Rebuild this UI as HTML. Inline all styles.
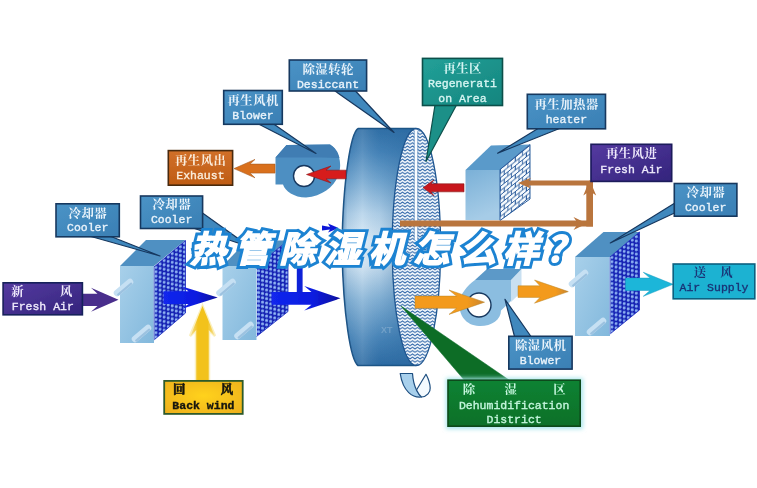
<!DOCTYPE html>
<html><head><meta charset="utf-8"><title>diagram</title>
<style>html,body{margin:0;padding:0;background:#fff;}svg{display:block;}body{font-family:"Liberation Sans",sans-serif;}</style></head>
<body>
<svg width="757" height="488" viewBox="0 0 757 488"><defs>
<linearGradient id="rimV" gradientUnits="userSpaceOnUse" x1="0" y1="128" x2="0" y2="366">
 <stop offset="0" stop-color="#2f6ea5"/>
 <stop offset="0.10" stop-color="#4583b8"/>
 <stop offset="0.22" stop-color="#74a7d0"/>
 <stop offset="0.36" stop-color="#b5d3ea"/>
 <stop offset="0.48" stop-color="#dcebf6"/>
 <stop offset="0.58" stop-color="#cbe0f0"/>
 <stop offset="0.72" stop-color="#86b3d6"/>
 <stop offset="0.88" stop-color="#4a86b9"/>
 <stop offset="1" stop-color="#2c6aa2"/>
</linearGradient>
<linearGradient id="rimH" gradientUnits="userSpaceOnUse" x1="342" y1="0" x2="410" y2="0">
 <stop offset="0" stop-color="#2a68a0" stop-opacity="0.55"/>
 <stop offset="0.08" stop-color="#2a68a0" stop-opacity="0.12"/>
 <stop offset="0.3" stop-color="#ffffff" stop-opacity="0.12"/>
 <stop offset="0.55" stop-color="#2a68a0" stop-opacity="0.08"/>
 <stop offset="1" stop-color="#2a68a0" stop-opacity="0.5"/>
</linearGradient>
<pattern id="wave" width="5" height="3.3" patternUnits="userSpaceOnUse">
 <rect width="5" height="3.3" fill="#f4f9fd"/>
 <path d="M-1.25 1.65 L0 2.5 L1.25 1.65 L2.5 0.8 L3.75 1.65 L5 2.5 L6.25 1.65" fill="none" stroke="#2a62a6" stroke-width="1.05" stroke-linejoin="round"/>
</pattern>
<pattern id="dots" width="4.05" height="4.35" patternUnits="userSpaceOnUse" patternTransform="translate(154 267) skewY(-40.5)">
 <rect width="4.05" height="4.35" fill="#1420b2"/>
 <circle transform="translate(2.02 2.17) skewY(40.5)" r="1.55" fill="#7ea4ee"/>
 <circle transform="translate(1.8 1.9) skewY(40.5)" r="0.7" fill="#a8c6f8"/>
</pattern>
<pattern id="brick" width="7.4" height="8.6" patternUnits="userSpaceOnUse" patternTransform="translate(499.5 169.5) skewY(-39)">
 <rect width="7.4" height="8.6" fill="#f6fafd"/>
 <path d="M0 0.5 H7.4 M0 4.8 H7.4 M1 0.5 V4.8 M4.7 4.8 V9.1 M4.7 -3.8 V0.5" fill="none" stroke="#2b5c9c" stroke-width="1"/>
</pattern>
<linearGradient id="front" x1="0" y1="0" x2="1" y2="1">
 <stop offset="0" stop-color="#a8d0ea"/>
 <stop offset="1" stop-color="#82b8dc"/>
</linearGradient>
<linearGradient id="hfront" x1="0" y1="0" x2="0.3" y2="1">
 <stop offset="0" stop-color="#7ab0d7"/><stop offset="1" stop-color="#a6cce7"/>
</linearGradient>
<linearGradient id="orangeR" x1="0" y1="0" x2="1" y2="0">
 <stop offset="0" stop-color="#f39a1d"/>
 <stop offset="0.75" stop-color="#f39a1d"/>
 <stop offset="1" stop-color="#c9852f"/>
</linearGradient>
<linearGradient id="blueR" x1="0" y1="0" x2="1" y2="0">
 <stop offset="0" stop-color="#1226ee"/><stop offset="0.6" stop-color="#0c1ce0"/><stop offset="1" stop-color="#0a0f9c"/>
</linearGradient>
<linearGradient id="yel" x1="0" y1="0" x2="1" y2="0">
 <stop offset="0" stop-color="#f7e39a"/>
 <stop offset="0.3" stop-color="#f2c21c"/>
 <stop offset="0.7" stop-color="#f2c21c"/>
 <stop offset="1" stop-color="#f7e39a"/>
</linearGradient>
<linearGradient id="gbl" x1="0" y1="0" x2="1" y2="1"><stop offset="0" stop-color="#4a93c6"/><stop offset="1" stop-color="#3a7fb4"/></linearGradient>
<linearGradient id="gteal" x1="0" y1="0" x2="1" y2="1"><stop offset="0" stop-color="#22a098"/><stop offset="1" stop-color="#14857e"/></linearGradient>
<linearGradient id="gor" x1="0" y1="0" x2="0" y2="1"><stop offset="0" stop-color="#d1702a"/><stop offset="1" stop-color="#bf5c14"/></linearGradient>
<linearGradient id="gpu" x1="0" y1="0" x2="1" y2="1"><stop offset="0" stop-color="#553aa0"/><stop offset="1" stop-color="#33247c"/></linearGradient>
<linearGradient id="ggr" x1="0" y1="0" x2="0" y2="1"><stop offset="0" stop-color="#0c8232"/><stop offset="1" stop-color="#0a7029"/></linearGradient>
<radialGradient id="gye" cx="0.5" cy="0.45" r="0.7"><stop offset="0" stop-color="#ffd21a"/><stop offset="1" stop-color="#eeb01c"/></radialGradient>
<filter id="soft" filterUnits="userSpaceOnUse" x="0" y="0" width="757" height="488"><feGaussianBlur stdDeviation="0.45"/></filter>
<filter id="soft2" filterUnits="userSpaceOnUse" x="0" y="0" width="757" height="488"><feGaussianBlur stdDeviation="0.25"/></filter>
<filter id="glow" filterUnits="userSpaceOnUse" x="0" y="0" width="757" height="488"><feGaussianBlur stdDeviation="2"/></filter>
</defs>
<rect width="757" height="488" fill="#fff"/>
<g filter="url(#soft)">
<path d="M358 128.5 C351 133 343 178 342 247 C343 316 351 361 358 365.5 L416 365.5 C405 340 392.5 300 392.5 247 C392.5 194 405 154 416 128.5 Z" fill="url(#rimV)"/>
<path d="M358 128.5 C351 133 343 178 342 247 C343 316 351 361 358 365.5 L416 365.5 C405 340 392.5 300 392.5 247 C392.5 194 405 154 416 128.5 Z" fill="url(#rimH)"/>
<path d="M358 128.5 C351 133 343 178 342 247 C343 316 351 361 358 365.5 L416 365.5 M358 128.5 L416 128.5" fill="none" stroke="#1f5486" stroke-width="1.5"/>
</g>
<ellipse cx="416.4" cy="247" rx="24.2" ry="118.5" fill="url(#wave)" stroke="#1f5690" stroke-width="1.3"/>
<path d="M416 130 V240" stroke="#fbfdff" stroke-width="3.2"/>
<path d="M414.2 131 V240 M417.8 131 V240" stroke="#3a72b0" stroke-width="0.6"/>
<g filter="url(#soft)">
<text x="381" y="333" font-family="'Liberation Sans', sans-serif" font-size="9" font-weight="bold" fill="#fff" opacity="0.2">XT</text>
<path d="M400.2 373.5 L412.5 373.5 C413 381 415 387 416.5 390 C418 393 419.5 395 421.5 397 C413 398 403 392 400.2 373.5 Z" fill="#a8d0ec" stroke="#1f4f80" stroke-width="1.2" stroke-linejoin="round"/>
<path d="M426 374.3 L416.5 390 C418 393 419.5 395.5 421.5 397 C427 396.5 430.5 392 430.2 388 C430 383 428 378 426 374.3 Z" fill="#f4fafe" stroke="#1f4f80" stroke-width="1.2" stroke-linejoin="round"/>
<polygon points="120,266 146,240 185.5,240 154,266" fill="#4f90c2"/>
<rect x="120" y="266" width="34" height="77" fill="url(#front)"/>
<g transform="translate(0 0)"><polygon points="154.0,267.0 185.5,240.5 185.5,313.0 154.0,340.0" fill="url(#dots)" stroke="#1626bd" stroke-width="0.8"/></g>
<path d="M154 267 L154 340" stroke="#cfe4f5" stroke-width="0.9"/>
<path d="M117 293 l13 -11" stroke="#c6e0f3" stroke-width="6.5" stroke-linecap="round"/>
<path d="M118.2 294.6 l13 -11" stroke="#9cc2e0" stroke-width="2.2" stroke-linecap="round"/>
<path d="M135 339 l13 -11" stroke="#c6e0f3" stroke-width="6.5" stroke-linecap="round"/>
<path d="M136.2 340.6 l13 -11" stroke="#9cc2e0" stroke-width="2.2" stroke-linecap="round"/>
<polygon points="222.5,266 247,240.5 288,240.5 256.5,266" fill="#4f90c2"/>
<rect x="222.5" y="266" width="34.0" height="74" fill="url(#front)"/>
<g transform="translate(102.5 -1)"><polygon points="154.0,267.0 185.5,241.5 185.5,312.5 154.0,337.5" fill="url(#dots)" stroke="#1626bd" stroke-width="0.8"/></g>
<path d="M256.5 266 L256.5 336.5" stroke="#cfe4f5" stroke-width="0.9"/>
<path d="M219.5 293 l13 -11" stroke="#c6e0f3" stroke-width="6.5" stroke-linecap="round"/>
<path d="M220.7 294.6 l13 -11" stroke="#9cc2e0" stroke-width="2.2" stroke-linecap="round"/>
<path d="M237.5 336 l13 -11" stroke="#c6e0f3" stroke-width="6.5" stroke-linecap="round"/>
<path d="M238.7 337.6 l13 -11" stroke="#9cc2e0" stroke-width="2.2" stroke-linecap="round"/>
<polygon points="575,257 603.5,232 639.5,232 610,257" fill="#4f90c2"/>
<rect x="575" y="257" width="35" height="79" fill="url(#front)"/>
<g transform="translate(456 -10)"><polygon points="154.0,267.0 183.5,242.0 183.5,320.0 154.0,344.0" fill="url(#dots)" stroke="#1626bd" stroke-width="0.8"/></g>
<path d="M610 257 L610 334" stroke="#cfe4f5" stroke-width="0.9"/>
<path d="M572 284 l13 -11" stroke="#c6e0f3" stroke-width="6.5" stroke-linecap="round"/>
<path d="M573.2 285.6 l13 -11" stroke="#9cc2e0" stroke-width="2.2" stroke-linecap="round"/>
<path d="M590 332 l13 -11" stroke="#c6e0f3" stroke-width="6.5" stroke-linecap="round"/>
<path d="M591.2 333.6 l13 -11" stroke="#9cc2e0" stroke-width="2.2" stroke-linecap="round"/>
<polygon points="465.5,170 491,145.5 530,144.5 500,170" fill="#5a9aca"/>
<rect x="465.5" y="170" width="34.5" height="50" fill="url(#hfront)"/>
<polygon points="500,169.5 530,144.5 530,199 500,220.5" fill="url(#brick)" stroke="#2b5c9c" stroke-width="1"/>
<path d="M275.5 157.5 L286.5 145 L330 144.5 C337 149 341 158 340 168 C339 182 326 196 306 197.5 C294 197.5 285 191 283 184.5 L275.5 184.5 Z" fill="#4e8fc2"/>
<path d="M275.5 157.5 L286.5 145 L330 144.5 C335 147 338 152 339.5 158 L322 157.5 Z" fill="#3f7db3"/>
<circle cx="304" cy="176" r="10.5" fill="#fff" stroke="#17375e" stroke-width="1.4"/>
<polygon points="511,280 521.5,269 521.5,292 511,302" fill="#c9e0f1"/>
<path d="M475 280 L511 280 L511 301 L501 310.5 C501 320 491 326.5 479 326 C466 325.5 458.5 315 459.5 303 C460 294 467 286 475 280 Z" fill="#8bbde0"/>
<polygon points="475,280 487,269 521.5,269 511,280" fill="#5b99c8"/>
<circle cx="479" cy="305" r="12" fill="#fff" stroke="#17375e" stroke-width="1.4"/>
<path d="M82 293.7 L97.5 293.7 L91 287.8 L118.5 299.8 L91 311.8 L97.5 305.90000000000003 L82 305.90000000000003 Z" fill="#4a2e8c" />
<path d="M163.5 291.3 L188.5 291.3 L181.4 286.3 L217.7 297.6 L181.4 308.90000000000003 L188.5 303.90000000000003 L163.5 303.90000000000003 Z" fill="url(#blueR)" />
<path d="M271.5 291.90000000000003 L311.5 291.90000000000003 L304.3 286.1 L340.5 298.3 L304.3 310.5 L311.5 304.7 L271.5 304.7 Z" fill="url(#blueR)" />
<path d="M296.8 266 H302.6 V293 H296.8 Z" fill="#1020d8"/>
<path d="M322 225.5 L330 227 L328 223.5 L338.5 228 L328 232.5 L330 229.5 L322 230.5 Z" fill="#0a18d8"/>
<path d="M196 381 L196 330 L190 336 L202.5 306 L215 336 L209 330 L209 381 Z" fill="#f9ecb0" stroke="#f9ecb0" stroke-width="2.5" opacity="0.8"/>
<path d="M196.2 381 L196.2 330 L190.5 336 L202.5 306 L214.8 336 L208.8 330 L208.8 381 Z" fill="url(#yel)"/>
<path d="M346 170.2 L326 170.2 L331 166.0 L306.5 174.5 L331 183.0 L326 178.8 L346 178.8 Z" fill="#d61c1e" stroke="#8e1618" stroke-width="0.6"/>
<path d="M275 164.1 L250 164.1 L255 159.4 L234 168.6 L255 177.79999999999998 L250 173.1 L275 173.1 Z" fill="#d9701f" stroke="#a85c22" stroke-width="0.6"/>
<path d="M464 183.8 L431 183.8 L434 179.8 L423 187.8 L434 195.8 L431 191.8 L464 191.8 Z" fill="#c8161d" stroke="#84141a" stroke-width="0.6"/>
<path d="M415 296.09999999999997 L456.5 296.09999999999997 L449 290.0 L484.5 302.2 L449 314.4 L456.5 308.3 L415 308.3 Z" fill="url(#orangeR)" stroke="#b98428" stroke-width="0.5"/>
<path d="M518 285.8 L540 285.8 L534.5 280.0 L568.3 291.6 L534.5 303.20000000000005 L540 297.40000000000003 L518 297.40000000000003 Z" fill="url(#orangeR)" stroke="#b98428" stroke-width="0.5"/>
<path d="M625.5 278.1 L650 278.1 L643.3 272.3 L673 284.3 L643.3 296.3 L650 290.5 L625.5 290.5 Z" fill="#1bb6d9" stroke="#189cc0" stroke-width="0.5"/>
<path d="M400 220.5 H593 V226.5 H400 Z" fill="#b9743c"/>
<path d="M573.5 217 L587 223.5 L573.5 230 L578 223.5 Z" fill="#b9743c"/>
<path d="M586.3 226.5 V183 H593 V226.5 Z" fill="#b9743c"/>
<path d="M583.3 195.5 L589.7 180 L596.2 195.5 L589.7 191 Z" fill="#b9743c"/>
<path d="M526 180.4 H593 V185.4 H526 Z" fill="#b9743c"/>
<path d="M531 177.7 L518.2 182.9 L531 188.6 L527 182.9 Z" fill="#b9743c"/>
<polygon points="91,236.5 111,236.5 160,256" fill="#3f88bd" stroke="#17375e" stroke-width="1.2" stroke-linejoin="round"/>
<polygon points="202.5,213 193,228 250,247" fill="#3f88bd" stroke="#17375e" stroke-width="1.2" stroke-linejoin="round"/>
<polygon points="259,124.2 274,124.2 316,153.5" fill="#3f88bd" stroke="#17375e" stroke-width="1.2" stroke-linejoin="round"/>
<polygon points="335,91 355.5,91 394,132.5" fill="#3f88bd" stroke="#17375e" stroke-width="1.2" stroke-linejoin="round"/>
<polygon points="435,105 456.5,105 426,161.5" fill="#1a9088" stroke="#0d4f4a" stroke-width="1.2" stroke-linejoin="round"/>
<polygon points="538,128.5 559.5,128.5 497.6,153.2" fill="#3f88bd" stroke="#17375e" stroke-width="1.2" stroke-linejoin="round"/>
<polygon points="674.5,203.2 674.5,213 610.3,243" fill="#3f88bd" stroke="#17375e" stroke-width="1.2" stroke-linejoin="round"/>
<polygon points="514.5,336.5 531,336.5 505,299.3" fill="#3f88bd" stroke="#17375e" stroke-width="1.2" stroke-linejoin="round"/>
<polygon points="401,306 510.5,381 465,381" fill="#0b6d28" stroke="#0b6d28" stroke-width="0.5" stroke-linejoin="round"/>
<rect x="446" y="378" width="137" height="51" fill="#a8e6ec" filter="url(#glow)"/>
</g>
<rect x="56" y="203.8" width="63.3" height="33.0" fill="url(#gbl)" stroke="#17375e" stroke-width="1.6" filter="url(#soft)"/>
<g font-family="'Liberation Mono', monospace" filter="url(#soft)"><text x="68.6" y="217.5" font-family="'Liberation Serif', 'Noto Serif CJK SC', serif" font-size="12.4" font-weight="bold" letter-spacing="0.45" fill="#e9f3fb">冷却器</text><text x="87.7" y="231.4" font-size="11.50" fill="#e9f3fb" stroke="#e9f3fb" stroke-width="0.35" font-weight="normal" text-anchor="middle" >Cooler</text></g>
<rect x="140.5" y="196" width="62.099999999999994" height="32.5" fill="url(#gbl)" stroke="#17375e" stroke-width="1.6" filter="url(#soft)"/>
<g font-family="'Liberation Mono', monospace" filter="url(#soft)"><text x="152.5" y="209.4" font-family="'Liberation Serif', 'Noto Serif CJK SC', serif" font-size="12.4" font-weight="bold" letter-spacing="0.45" fill="#e9f3fb">冷却器</text><text x="171.6" y="223.2" font-size="11.50" fill="#e9f3fb" stroke="#e9f3fb" stroke-width="0.35" font-weight="normal" text-anchor="middle" >Cooler</text></g>
<rect x="223.7" y="90.5" width="58.60000000000002" height="33.8" fill="url(#gbl)" stroke="#17375e" stroke-width="1.6" filter="url(#soft)"/>
<g font-family="'Liberation Mono', monospace" filter="url(#soft)"><text x="227.53" y="105" font-family="'Liberation Serif', 'Noto Serif CJK SC', serif" font-size="12.4" font-weight="bold" letter-spacing="0.45" fill="#e9f3fb">再生风机</text><text x="253.0" y="119.3" font-size="11.50" fill="#e9f3fb" stroke="#e9f3fb" stroke-width="0.35" font-weight="normal" text-anchor="middle" >Blower</text></g>
<rect x="289.3" y="60" width="77.30000000000001" height="31" fill="url(#gbl)" stroke="#17375e" stroke-width="1.6" filter="url(#soft)"/>
<g font-family="'Liberation Mono', monospace" filter="url(#soft)"><text x="302.48" y="73.8" font-family="'Liberation Serif', 'Noto Serif CJK SC', serif" font-size="12.4" font-weight="bold" letter-spacing="0.45" fill="#e9f3fb">除湿转轮</text><text x="328.0" y="88.2" font-size="11.50" fill="#e9f3fb" stroke="#e9f3fb" stroke-width="0.35" font-weight="normal" text-anchor="middle" >Desiccant</text></g>
<rect x="422.5" y="58.4" width="80.0" height="47.1" fill="url(#gteal)" stroke="#0d4f4a" stroke-width="1.6" filter="url(#soft)"/>
<g font-family="'Liberation Mono', monospace" filter="url(#soft)"><text x="443.45" y="72.8" font-family="'Liberation Serif', 'Noto Serif CJK SC', serif" font-size="12.4" font-weight="bold" letter-spacing="0.45" fill="#d5f5f2">再生区</text><text x="462.5" y="87.0" font-size="11.50" fill="#d5f5f2" stroke="#d5f5f2" stroke-width="0.35" font-weight="normal" text-anchor="middle" >Regenerati</text><text x="462.5" y="101.5" font-size="11.50" fill="#d5f5f2" stroke="#d5f5f2" stroke-width="0.35" font-weight="normal" text-anchor="middle" >on Area</text></g>
<rect x="527.3" y="94.3" width="78.20000000000005" height="34.500000000000014" fill="url(#gbl)" stroke="#17375e" stroke-width="1.6" filter="url(#soft)"/>
<g font-family="'Liberation Mono', monospace" filter="url(#soft)"><text x="534.5" y="109.1" font-family="'Liberation Serif', 'Noto Serif CJK SC', serif" font-size="12.4" font-weight="bold" letter-spacing="0.45" fill="#e9f3fb">再生加热器</text><text x="566.4" y="122.7" font-size="11.50" fill="#e9f3fb" stroke="#e9f3fb" stroke-width="0.35" font-weight="normal" text-anchor="middle" >heater</text></g>
<rect x="674.3" y="183.5" width="62.60000000000002" height="32.69999999999999" fill="url(#gbl)" stroke="#17375e" stroke-width="1.6" filter="url(#soft)"/>
<g font-family="'Liberation Mono', monospace" filter="url(#soft)"><text x="686.55" y="197.2" font-family="'Liberation Serif', 'Noto Serif CJK SC', serif" font-size="12.4" font-weight="bold" letter-spacing="0.45" fill="#e9f3fb">冷却器</text><text x="705.6" y="211.1" font-size="11.50" fill="#e9f3fb" stroke="#e9f3fb" stroke-width="0.35" font-weight="normal" text-anchor="middle" >Cooler</text></g>
<rect x="508.8" y="336.3" width="63.30000000000001" height="32.80000000000001" fill="url(#gbl)" stroke="#17375e" stroke-width="1.6" filter="url(#soft)"/>
<g font-family="'Liberation Mono', monospace" filter="url(#soft)"><text x="514.98" y="349.7" font-family="'Liberation Serif', 'Noto Serif CJK SC', serif" font-size="12.4" font-weight="bold" letter-spacing="0.45" fill="#e9f3fb">除湿风机</text><text x="540.5" y="364.2" font-size="11.50" fill="#e9f3fb" stroke="#e9f3fb" stroke-width="0.35" font-weight="normal" text-anchor="middle" >Blower</text></g>
<rect x="168.3" y="150.6" width="64.29999999999998" height="34.599999999999994" fill="url(#gor)" stroke="#4a2a10" stroke-width="1.6" filter="url(#soft)"/>
<g font-family="'Liberation Mono', monospace" filter="url(#soft)"><text x="174.97" y="164.8" font-family="'Liberation Serif', 'Noto Serif CJK SC', serif" font-size="12.4" font-weight="bold" letter-spacing="0.45" fill="#fbeedd">再生风出</text><text x="200.4" y="178.8" font-size="11.50" fill="#fbeedd" stroke="#fbeedd" stroke-width="0.35" font-weight="normal" text-anchor="middle" >Exhaust</text></g>
<rect x="591" y="144.3" width="80.70000000000005" height="37.099999999999994" fill="url(#gpu)" stroke="#1b1b5a" stroke-width="1.6" filter="url(#soft)"/>
<g font-family="'Liberation Mono', monospace" filter="url(#soft)"><text x="605.88" y="158" font-family="'Liberation Serif', 'Noto Serif CJK SC', serif" font-size="12.4" font-weight="bold" letter-spacing="0.45" fill="#efeafc">再生风进</text><text x="631.4" y="172.9" font-size="11.50" fill="#efeafc" stroke="#efeafc" stroke-width="0.35" font-weight="normal" text-anchor="middle" >Fresh Air</text></g>
<rect x="3.1" y="282.8" width="79.30000000000001" height="32.0" fill="url(#gpu)" stroke="#17205a" stroke-width="1.6" filter="url(#soft)"/>
<g font-family="'Liberation Mono', monospace" filter="url(#soft)"><text x="11.3 60" y="296.3" font-family="'Liberation Serif', 'Noto Serif CJK SC', serif" font-size="12.4" font-weight="bold" fill="#efeafc">新风</text><text x="42.8" y="310.3" font-size="11.50" fill="#efeafc" stroke="#efeafc" stroke-width="0.35" font-weight="normal" text-anchor="middle" >Fresh Air</text></g>
<rect x="673.2" y="264" width="81.59999999999991" height="34.80000000000001" fill="#1ab2d2" stroke="#0a6080" stroke-width="1.6" filter="url(#soft)"/>
<g font-family="'Liberation Mono', monospace" filter="url(#soft)"><text x="693.8 720.3" y="276.7" font-family="'Liberation Serif', 'Noto Serif CJK SC', serif" font-size="12.4" font-weight="bold" fill="#1a3476">送风</text><text x="714.0" y="291.4" font-size="11.50" fill="#1a3476" stroke="#1a3476" stroke-width="0.35" font-weight="normal" text-anchor="middle" >Air Supply</text></g>
<rect x="448" y="380.2" width="132.20000000000005" height="46.0" fill="url(#ggr)" stroke="#0a4a1a" stroke-width="1.6" filter="url(#soft)"/>
<g font-family="'Liberation Mono', monospace" filter="url(#soft)"><text x="462.8 504.6 553.2" y="394.4" font-family="'Liberation Serif', 'Noto Serif CJK SC', serif" font-size="12.4" font-weight="bold" fill="#c4f6dc">除湿区</text><text x="514.1" y="408.6" font-size="11.50" fill="#c4f6dc" stroke="#c4f6dc" stroke-width="0.35" font-weight="normal" text-anchor="middle" >Dehumidification</text><text x="514.1" y="423.0" font-size="11.50" fill="#c4f6dc" stroke="#c4f6dc" stroke-width="0.35" font-weight="normal" text-anchor="middle" >District</text></g>
<rect x="164.2" y="380.9" width="78.5" height="33.0" fill="url(#gye)" stroke="#2f5a2a" stroke-width="1.8" filter="url(#soft)"/>
<g font-family="'Liberation Mono', monospace" filter="url(#soft)"><text x="173 220.8" y="394" font-family="'Liberation Serif', 'Noto Serif CJK SC', serif" font-size="12.4" font-weight="bold" fill="#15150c" stroke="#15150c" stroke-width="0.56">回风</text><text x="203.4" y="408.5" font-size="11.50" fill="#15150c" stroke="#15150c" stroke-width="0.35" font-weight="bold" text-anchor="middle" >Back wind</text></g>
<g filter="url(#soft2)" stroke-linejoin="miter" stroke-miterlimit="2.5">
<text x="190 234.5 279.5 324.5 369 413.5 460 503 546" y="262" font-family="'Liberation Sans', 'Noto Sans CJK SC', sans-serif" font-size="36" font-weight="bold" font-style="italic" fill="#1d83d2" stroke="#1d83d2" stroke-width="7.25">热管除湿机怎么样？</text>
<text x="190 234.5 279.5 324.5 369 413.5 460 503 546" y="262" font-family="'Liberation Sans', 'Noto Sans CJK SC', sans-serif" font-size="36" font-weight="bold" font-style="italic" fill="#fff" stroke="#fff" stroke-width="1.45" stroke-linejoin="miter">热管除湿机怎么样？</text>
</g></svg>
</body></html>
